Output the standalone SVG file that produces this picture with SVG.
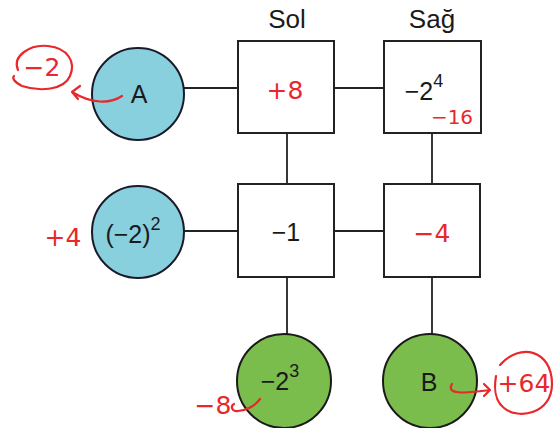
<svg xmlns="http://www.w3.org/2000/svg" width="554" height="428" viewBox="0 0 554 428">
<defs>
<style>
.box{fill:#fff;stroke:#222;stroke-width:2}
.cb{fill:#88d0dd;stroke:#1a1a2a;stroke-width:2}
.cg{fill:#7bbd4c;stroke:#1a1a1a;stroke-width:2}
.ln{stroke:#222;stroke-width:1.8;fill:none}
.t{font-family:"Liberation Sans",Arial,sans-serif;font-size:25px;fill:#1a1a1a;text-anchor:middle}
.h{font-family:"Liberation Sans",Arial,sans-serif;font-size:26px;fill:#1a1a1a;text-anchor:middle}
.r{font-family:"DejaVu Sans","Liberation Sans",sans-serif;font-size:25px;fill:#e8282b;text-anchor:middle}
.rs{font-size:20px}
.rl{stroke:#e8282b;stroke-width:2.2;fill:none;stroke-linecap:round;stroke-linejoin:round}
.sup{font-size:18px}
</style>
</defs>
<text class="h" x="287" y="28">Sol</text>
<text class="h" x="432" y="28">Sağ</text>
<g id="connectors">
<line class="ln" x1="184" y1="88" x2="238" y2="88"/>
<line class="ln" x1="334" y1="88" x2="384" y2="88"/>
<line class="ln" x1="287" y1="133" x2="287" y2="184"/>
<line class="ln" x1="432" y1="133" x2="432" y2="184"/>
<line class="ln" x1="184" y1="231" x2="238" y2="231"/>
<line class="ln" x1="334" y1="231" x2="384" y2="231"/>
<line class="ln" x1="287" y1="277" x2="287" y2="334"/>
<line class="ln" x1="432" y1="277" x2="432" y2="334"/>
</g>
<g id="A">
<circle class="cb" cx="138" cy="94" r="46"/>
<text class="t" x="139" y="103">A</text>
</g>
<g id="solTop">
<rect class="box" x="238" y="41" width="96" height="92"/>
<text class="r" x="285" y="99">+8</text>
</g>
<g id="sagTop">
<rect class="box" x="384" y="41" width="97" height="92"/>
<text class="t" x="424" y="100">−2<tspan class="sup" dy="-13">4</tspan></text>
<text class="r rs" x="452" y="124">−16</text>
</g>
<g id="C2">
<circle class="cb" cx="138" cy="232" r="46"/>
<text class="t" x="133" y="243">(−2)<tspan class="sup" dy="-13">2</tspan></text>
</g>
<g id="solMid">
<rect class="box" x="238" y="184" width="96" height="93"/>
<text class="t" x="286" y="241">−1</text>
</g>
<g id="sagMid">
<rect class="box" x="384" y="184" width="96" height="93"/>
<text class="r" x="432" y="242">−4</text>
</g>
<g id="C3">
<circle class="cg" cx="284" cy="381" r="47"/>
<text class="t" x="280" y="390">−2<tspan class="sup" dy="-13">3</tspan></text>
</g>
<g id="B">
<circle class="cg" cx="430" cy="381" r="47"/>
<text class="t" x="429" y="391">B</text>
</g>
<g id="annotations">
<text class="r" x="42" y="76">−2</text>
<path class="rl" d="M18 70 C12 56 30 44 48 46 C68 48 76 62 70 76 C64 90 40 92 22 86 C14 82 12 78 14 76"/>
<path class="rl" d="M122 96 C110 104 92 104 72 92 M72 92 L80 86 M72 92 L78 99"/>
<text class="r" x="63" y="246">+4</text>
<text class="r" x="213" y="414">−8</text>
<path class="rl" d="M260 399 C255 406 246 410 238 411 C232 412 230 406 234 404"/>
<path class="rl" d="M452 384 C446 394 462 394 490 390 M490 390 L484 384 M490 390 L484 396"/>
<text class="r" x="524" y="392">+64</text>
<path class="rl" d="M500 365 C520 342 552 350 552 384 C552 414 518 420 504 408 C494 400 494 388 496 376"/>
</g>
</svg>
